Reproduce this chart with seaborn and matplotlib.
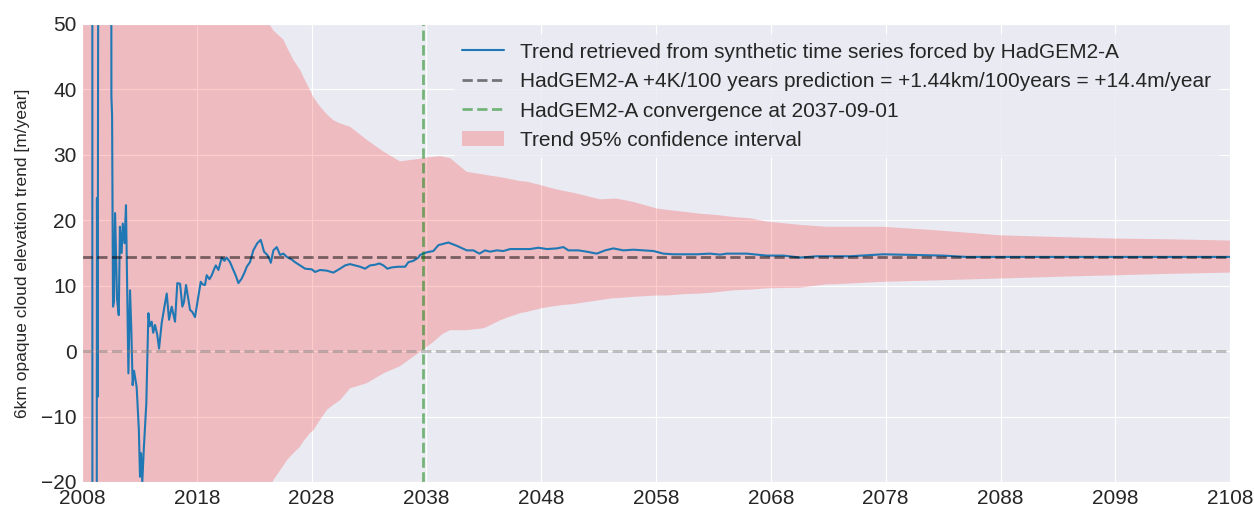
import numpy as np
import matplotlib
matplotlib.use("Agg")
import matplotlib.pyplot as plt
import seaborn as sns

# -------- Data --------
trend_years = [
    2008.00, 2008.88, 2008.92, 2009.26, 2009.30, 2009.36, 2009.52, 2010.50, 2010.56, 2010.62,
    2010.70, 2010.78, 2010.88, 2011.05, 2011.20, 2011.30, 2011.45, 2011.55, 2011.70, 2011.83,
    2012.04, 2012.18, 2012.30, 2012.41, 2012.53, 2012.76, 2012.95, 2013.05, 2013.14, 2013.25,
    2013.38, 2013.49, 2013.60, 2013.78, 2013.90, 2014.07, 2014.20, 2014.36, 2014.55, 2014.71,
    2014.94, 2015.15, 2015.38, 2015.58, 2015.81, 2016.10, 2016.30, 2016.54, 2016.74, 2016.88,
    2017.06, 2017.25, 2017.41, 2017.60, 2017.84, 2018.13, 2018.34, 2018.51, 2018.71, 2018.86,
    2019.10, 2019.30, 2019.50, 2019.65, 2019.88, 2020.17, 2020.40, 2020.60, 2020.89, 2021.18,
    2021.40, 2021.62, 2021.91, 2022.15, 2022.35, 2022.63, 2022.92, 2023.27, 2023.56, 2023.70,
    2023.85, 2024.14, 2024.30, 2024.44, 2024.67, 2024.96, 2025.25, 2025.54, 2025.83, 2026.27,
    2026.55, 2026.99, 2027.43, 2028.01, 2028.30, 2028.73, 2029.32, 2029.89, 2030.47, 2030.91,
    2031.34, 2031.78, 2032.22, 2032.65, 2033.09, 2033.52, 2033.90, 2034.25, 2034.60, 2034.98,
    2035.55, 2036.14, 2036.43, 2036.86, 2037.30, 2037.44, 2038.02, 2038.60, 2039.04, 2039.91,
    2040.64, 2041.51, 2042.09, 2042.61, 2043.10, 2043.54, 2044.12, 2044.70, 2045.28, 2046.15,
    2047.02, 2047.75, 2048.48, 2049.35, 2049.93, 2050.36, 2051.24, 2051.96, 2052.83, 2053.56,
    2054.28, 2055.15, 2056.03, 2056.90, 2057.77, 2058.64, 2059.51, 2060.38, 2061.54, 2062.70,
    2063.57, 2064.16, 2065.90, 2067.64, 2069.09, 2070.54, 2072.00, 2074.90, 2077.80, 2080.50,
    2083.00, 2085.00, 2090.00, 2100.00, 2108.00,
]
trend_values = [
    500.0, 400.0, -300.0, -100.0, 23.4, -7.0, 200.0, 150.0, 38.9, 36.0,
    6.8, 7.5, 21.1, 8.0, 5.5, 19.0, 15.0, 19.5, 16.5, 22.3,
    -3.4, 9.3, 3.0, -5.2, -3.0, -5.5, -12.0, -19.2, -15.6, -20.0,
    -15.0, -11.6, -8.0, 5.8, 3.8, 4.5, 2.8, 4.0, 2.5, 0.4,
    4.3, 6.5, 8.8, 4.8, 6.8, 4.5, 10.4, 10.3, 6.8, 7.5,
    10.1, 8.0, 6.3, 6.0, 5.2, 8.3, 10.6, 10.2, 10.1, 11.6,
    11.0, 11.6, 12.5, 13.1, 12.4, 14.3, 13.8, 14.3, 13.6, 12.4,
    11.5, 10.4, 11.1, 12.0, 12.9, 13.6, 15.4, 16.5, 17.0, 16.2,
    15.2, 14.7, 14.2, 13.5, 15.4, 15.9, 14.7, 14.9, 14.4, 14.0,
    13.6, 13.1, 12.6, 12.5, 12.1, 12.4, 12.3, 12.0, 12.6, 13.1,
    13.3, 13.1, 12.9, 12.6, 13.1, 13.2, 13.4, 13.1, 12.6, 12.8,
    12.9, 12.9, 13.6, 13.8, 14.3, 14.7, 15.1, 15.3, 16.2, 16.6,
    16.1, 15.4, 15.4, 14.9, 15.4, 15.2, 15.4, 15.3, 15.6, 15.6,
    15.6, 15.8, 15.6, 15.7, 15.9, 15.4, 15.4, 15.2, 14.9, 15.4,
    15.7, 15.4, 15.5, 15.4, 15.3, 14.9, 14.8, 14.8, 14.8, 14.9,
    14.75, 14.9, 14.9, 14.6, 14.6, 14.3, 14.5, 14.5, 14.8, 14.7,
    14.6, 14.4, 14.4, 14.4, 14.4,
]

ci_years = [
    2008.00, 2016.00, 2020.00, 2023.00, 2024.38, 2024.67, 2025.54, 2025.83, 2026.41, 2026.99,
    2027.28, 2027.86, 2028.15, 2028.73, 2029.32, 2029.89, 2030.47, 2031.34, 2032.80, 2034.25,
    2035.70, 2036.57, 2037.44, 2037.59, 2038.60, 2039.18, 2039.47, 2040.06, 2041.51, 2042.96,
    2043.25, 2044.41, 2045.00, 2046.15, 2046.74, 2047.90, 2048.48, 2049.64, 2050.80, 2051.96,
    2053.12, 2054.28, 2054.58, 2056.03, 2058.06, 2058.93, 2060.38, 2061.83, 2063.29, 2064.73,
    2066.19, 2067.64, 2070.54, 2072.87, 2073.40, 2077.80, 2082.16, 2087.97, 2093.77, 2098.13,
    2102.49, 2108.00,
]
ci_upper = [
    600.0, 150.0, 80.0, 57.0, 49.8, 49.0, 47.6, 46.5, 44.5, 43.0,
    41.9, 39.9, 38.8, 37.4, 36.2, 35.3, 34.8, 34.3, 32.3, 30.5,
    29.0, 29.2, 29.4, 29.5, 29.7, 29.8, 29.7, 29.5, 27.4, 27.0,
    26.9, 26.6, 26.4, 26.0, 25.9, 25.4, 25.1, 24.6, 24.2, 23.7,
    23.2, 23.3, 23.3, 22.8, 21.8, 21.6, 21.3, 21.0, 20.8, 20.5,
    20.3, 19.8, 19.3, 19.0, 19.0, 19.0, 18.5, 17.7, 17.4, 17.2,
    17.1, 16.9,
]
ci_lower = [
    -600.0, -120.0, -50.0, -27.0, -21.0, -19.7, -17.5, -16.7, -15.6, -14.6,
    -13.8, -12.5, -12.1, -10.5, -9.0, -8.2, -7.5, -5.7, -4.9, -3.4,
    -2.3, -1.2, -0.1, 0.1, 1.4, 2.3, 2.7, 3.2, 3.2, 3.5,
    3.7, 4.7, 5.1, 5.8, 6.0, 6.5, 6.7, 7.0, 7.2, 7.5,
    7.8, 8.1, 8.1, 8.3, 8.5, 8.5, 8.7, 8.8, 9.0, 9.3,
    9.4, 9.6, 9.7, 10.2, 10.2, 10.6, 10.8, 11.1, 11.4, 11.6,
    11.8, 12.0,
]

predicted_trend = 14.4
convergence_year = 2037 + 8 / 12  # 2037-09-01

x_ticks = list(range(2008, 2109, 10))
y_ticks = list(range(-20, 51, 10))

# -------- Plot --------
sns.set_style("darkgrid")
plt.rcParams['font.family'] = ['Liberation Sans', 'DejaVu Sans']

fig = plt.figure(figsize=(12.54, 5.08), dpi=100)
ax = fig.add_axes([0.0654, 0.0512, 0.9156, 0.9016])

sns.lineplot(x=trend_years, y=trend_values, ax=ax, color="#1f77b4", lw=1.5,
             sort=False, estimator=None,
             label="Trend retrieved from synthetic time series forced by HadGEM2-A")
ax.axhline(predicted_trend, color="k", alpha=0.5, ls="--", lw=2,
           label="HadGEM2-A +4K/100 years prediction = +1.44km/100years = +14.4m/year")
ax.axvline(convergence_year, color="green", alpha=0.5, ls="--", lw=2,
           label="HadGEM2-A convergence at 2037-09-01")
ax.axhline(0, color="grey", alpha=0.5, ls="--", lw=2)
ax.fill_between(ci_years, ci_lower, ci_upper, color="red", alpha=0.2, lw=0,
                label="Trend 95% confidence interval")

ax.set_xlim(2008, 2108)
ax.set_ylim(-20, 50)
ax.set_xticks(x_ticks)
ax.set_yticks(y_ticks)
ax.tick_params(labelsize=15, length=0)
ax.tick_params(axis="x", pad=5)
ax.tick_params(axis="y", pad=4)
ax.set_ylabel("6km opaque cloud elevation trend [m/year]", fontsize=12.5, labelpad=8)

leg = ax.legend(loc="upper right", fontsize=15, frameon=True, framealpha=0.8)
leg.get_frame().set_edgecolor("none")

fig.savefig("out.png", dpi=100)
